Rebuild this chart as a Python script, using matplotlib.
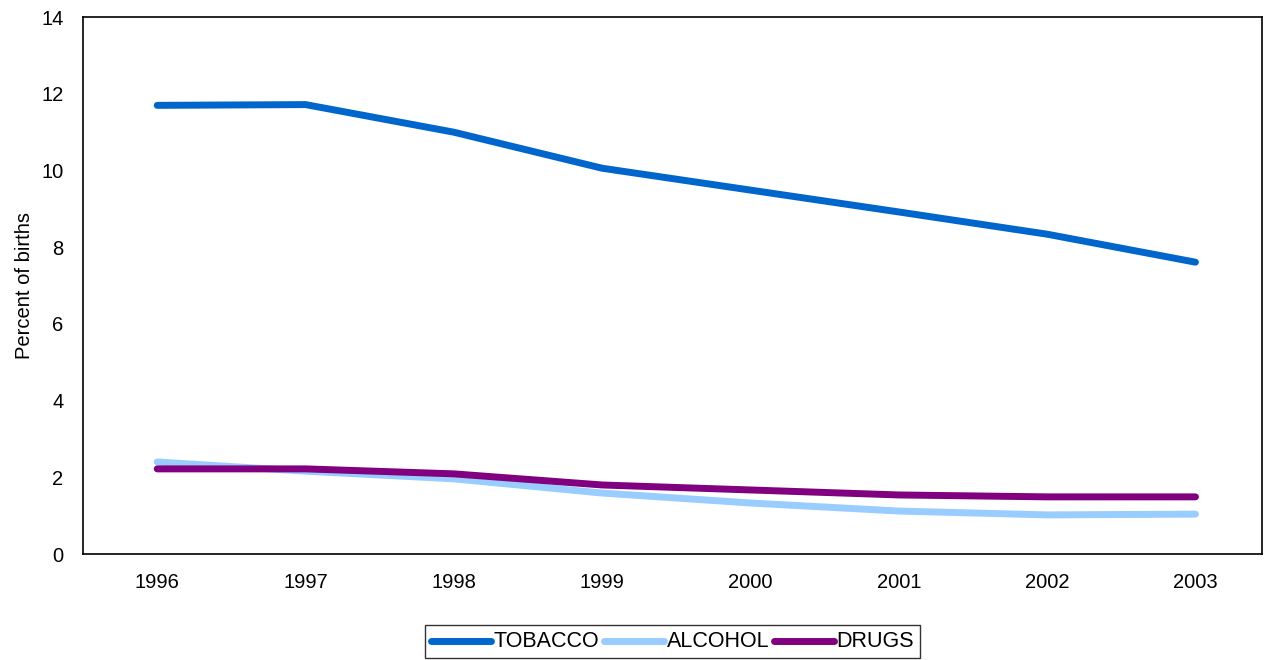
import matplotlib
matplotlib.use("Agg")
import matplotlib.pyplot as plt

plt.rcParams['font.family'] = ['Liberation Sans', 'DejaVu Sans']

years = ['1996', '1997', '1998', '1999', '2000', '2001', '2002', '2003']
tobacco = [11.70, 11.72, 11.00, 10.06, 9.49, 8.92, 8.34, 7.61]
alcohol = [2.40, 2.16, 1.96, 1.59, 1.33, 1.12, 1.02, 1.04]
drugs = [2.22, 2.22, 2.09, 1.80, 1.67, 1.54, 1.49, 1.49]

fig = plt.figure(figsize=(12.66, 6.6), dpi=100)
ax = fig.add_axes([0.0656, 0.1606, 0.9314, 0.8134])

x = range(len(years))
ax.plot(x, tobacco, color='#0066CC', lw=5, solid_capstyle='round', label='TOBACCO')
ax.plot(x, alcohol, color='#99CCFF', lw=5, solid_capstyle='round', label='ALCOHOL')
ax.plot(x, drugs, color='#800080', lw=5, solid_capstyle='round', label='DRUGS')

ax.set_xlim(-0.5, 7.45)
ax.set_ylim(0, 14)
ax.set_yticks(range(0, 15, 2))
ax.set_xticks(list(x))
ax.set_xticklabels(years)
ax.tick_params(length=0, labelsize=14.5, pad=14)
ax.tick_params(axis='y', pad=14)
ax.set_ylabel('Percent of births', fontsize=14.5, labelpad=5)
for s in ax.spines.values():
    s.set_linewidth(1.2)

leg = ax.legend(loc='upper center', bbox_to_anchor=(0.5, -0.133), ncol=3,
                frameon=True, fancybox=False, fontsize=15.5, handlelength=2.8,
                handletextpad=0.12, columnspacing=0.2, borderpad=0.28,
                borderaxespad=0, handleheight=0.5)
leg.get_frame().set_edgecolor('black')
leg.get_frame().set_linewidth(1.0)

fig.savefig('out.png', dpi=100)
